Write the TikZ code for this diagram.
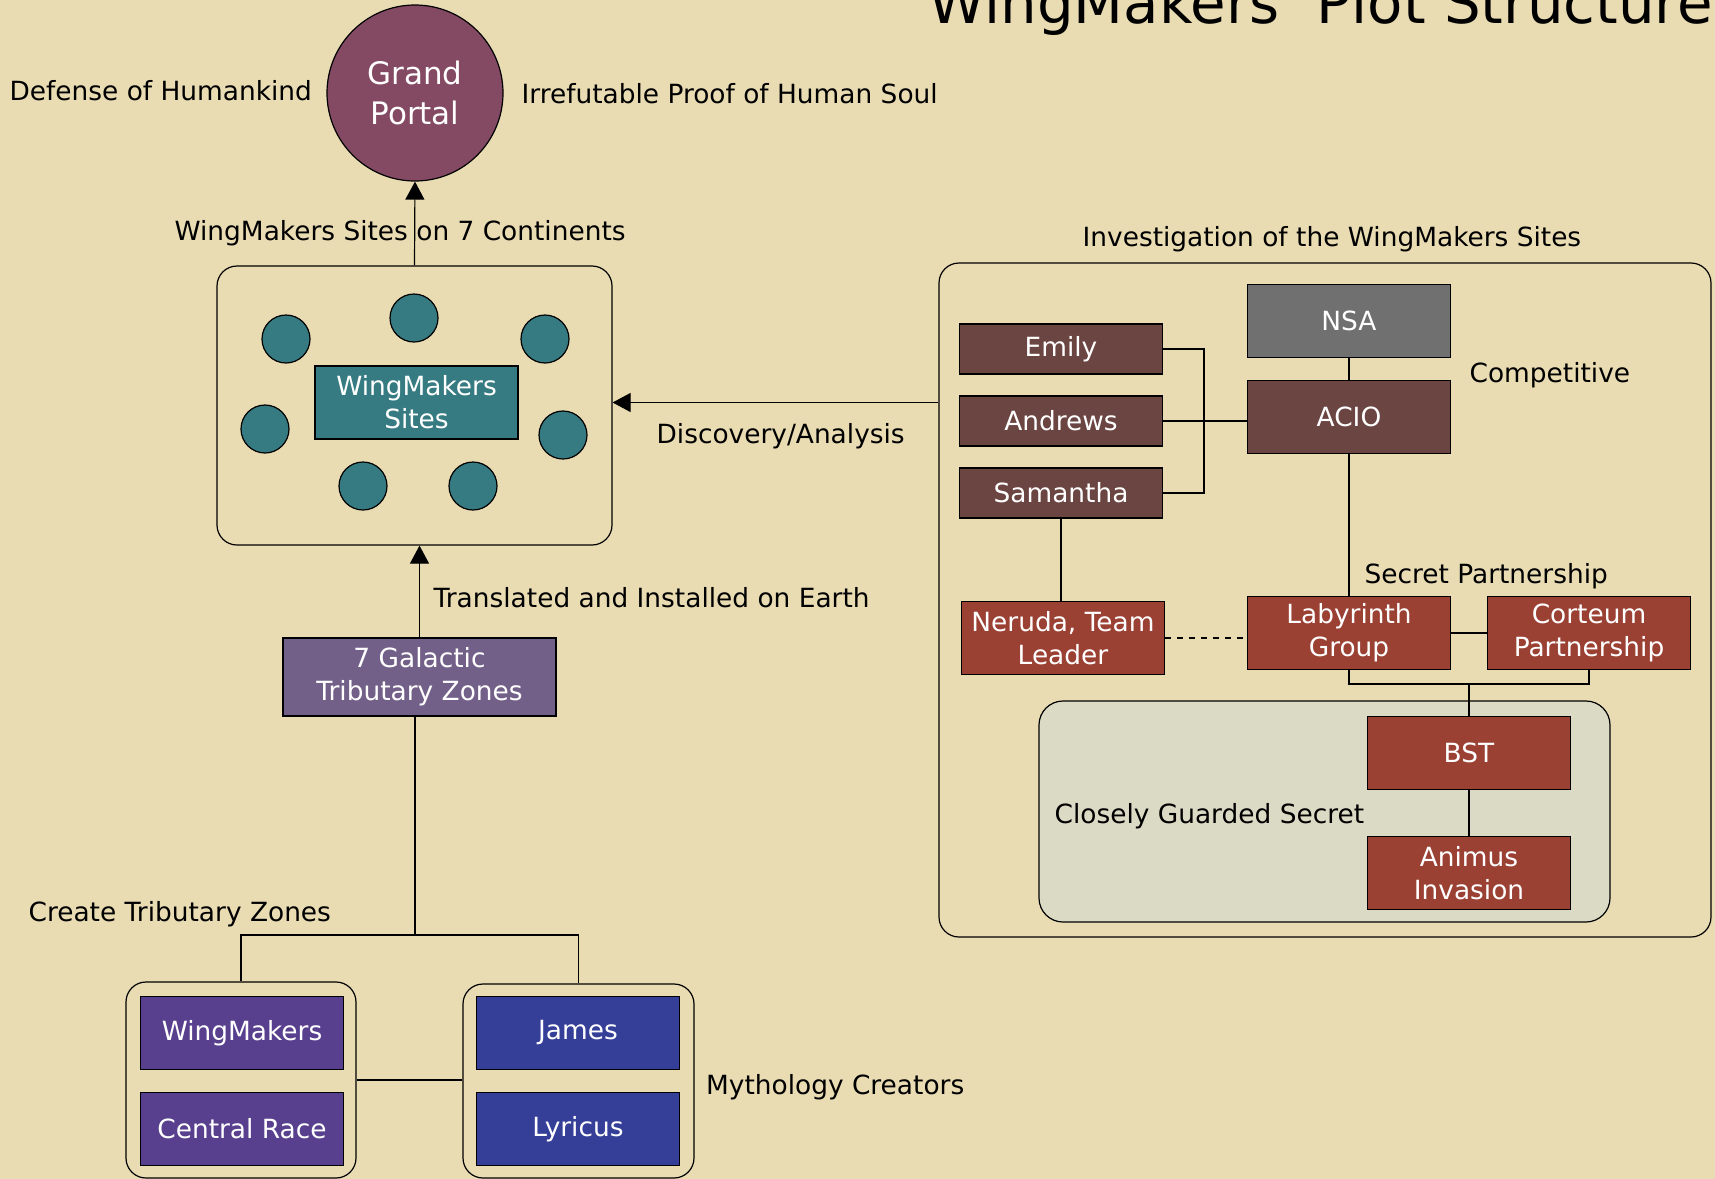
\documentclass[tikz,border=0pt]{standalone}
\usepackage{fontspec}
\setmainfont{DejaVu Sans}
\usetikzlibrary{arrows.meta}

\definecolor{paper}{HTML}{E9DCB3}
\definecolor{portalcol}{HTML}{844A63}
\definecolor{sitecol}{HTML}{367B82}
\definecolor{zonecol}{HTML}{736089}
\definecolor{makercol}{HTML}{58408E}
\definecolor{humancol}{HTML}{353F98}
\definecolor{nsacol}{HTML}{707070}
\definecolor{aciocol}{HTML}{6B4542}
\definecolor{labcol}{HTML}{9A4134}
\definecolor{secretcol}{HTML}{DBDAC5}

\begin{document}
\begin{tikzpicture}[x=0.5pt, y=-0.5pt, line width=0.6pt,
  every node/.style={font=\fontsize{13.2}{16.5}\selectfont},
  box/.style={draw, rectangle, inner sep=0pt, text=white, align=center,
    minimum width=101.5pt, minimum height=36.5pt},
  slim/.style={box, minimum height=25pt},
  group/.style={draw, rounded corners=10pt, inner sep=0pt},
  site/.style={draw, circle, fill=sitecol, minimum size=24pt, inner sep=0pt},
  lbl/.style={anchor=base west, inner sep=0pt},
  tip/.style={-{Triangle[length=9pt,width=9.5pt]}}]
\fill[paper] (0,0) rectangle (1715,1179);
\useasboundingbox (0,0) rectangle (1715,1179);

\node[lbl, font=\fontsize{28.9}{34}\selectfont] (title) at (928,23) {WingMakers' Plot Structure};

% portal and sites
\node[draw, circle, fill=portalcol, minimum size=88pt, inner sep=0pt, text=white, align=center,
  font=\fontsize{15.5}{20}\selectfont] (portal) at (415,93) {Grand\\Portal};
\node[group, minimum width=197.5pt, minimum height=139.5pt] (sites) at (414.5,405.5) {};
\node[box, fill=sitecol] (wmsites) at (416.5,402.5) {WingMakers\\Sites};
\foreach \p [count=\i] in {(286,339),(414,318),(545,339),(265,429),(563,435),(363,486),(473,486)}
  \node[site] (c\i) at \p {};

% tributary zones and creators
\node[box, fill=zonecol, minimum width=136.5pt, minimum height=39pt] (zones) at (419.5,677) {7 Galactic\\Tributary Zones};
\node[group, minimum width=115pt, minimum height=98pt] (creators) at (241,1080) {};
\node[group, minimum width=115.5pt, minimum height=97pt] (humans) at (578.5,1081) {};
\node[box, fill=makercol] (wingmakers) at (242,1033) {WingMakers};
\node[box, fill=makercol] (central) at (242,1129) {Central Race};
\node[box, fill=humancol] (james) at (578,1033) {James};
\node[box, fill=humancol] (lyricus) at (578,1129) {Lyricus};

% investigation
\node[group, minimum width=386pt, minimum height=337pt] (invest) at (1325,600) {};
\node[group, fill=secretcol, rounded corners=12pt, minimum width=285.5pt, minimum height=110.5pt] (secret) at (1324.5,811.5) {};
\node[box, fill=nsacol] (nsa) at (1349,321) {NSA};
\node[box, fill=aciocol] (acio) at (1349,417) {ACIO};
\node[slim, fill=aciocol] (emily) at (1061,349) {Emily};
\node[slim, fill=aciocol] (andrews) at (1061,421) {Andrews};
\node[slim, fill=aciocol] (samantha) at (1061,493) {Samantha};
\node[box, fill=labcol] (neruda) at (1063,638) {Neruda, Team\\Leader};
\node[box, fill=labcol] (labyrinth) at (1349,633) {Labyrinth\\Group};
\node[box, fill=labcol] (corteum) at (1589,633) {Corteum\\Partnership};
\node[box, fill=labcol] (bst) at (1469,753) {BST};
\node[box, fill=labcol] (animus) at (1469,873) {Animus\\Invasion};

% connectors
\coordinate (split) at (415,935);
\coordinate (brk) at (1204,0);
\coordinate (join) at (0,684);
\draw[tip] (sites.north) -- (portal.south);
\draw[tip] (zones.north) -- (zones.north |- sites.south);
\draw[tip] (invest.west |- wmsites) -- (sites.east |- wmsites);
\draw (zones.south -| split) -- (split);
\draw (creators.north) |- (split) -| (humans.north);
\draw (creators.east) -- (creators.east -| humans.west);
\draw (emily.east) -| (brk |- samantha.east) -- (samantha.east);
\draw (andrews.east) -- (andrews.east -| acio.west);
\draw (nsa.south) -- (acio.north);
\draw (acio.south) -- (labyrinth.north);
\draw (samantha.south) -- (samantha.south |- neruda.north);
\draw[dashed] (neruda.east) -- (neruda.east -| labyrinth.west);
\draw (labyrinth.east) -- (corteum.west);
\draw (labyrinth.south) -- (labyrinth.south |- join) -- (corteum.south |- join) -- (corteum.south);
\draw (bst.north |- join) -- (bst.north);
\draw (bst.south) -- (animus.north);

% labels
\node[lbl] (defense) at (9,100) {Defense of Humankind};
\node[lbl] (proof) at (521,103) {Irrefutable Proof of Human Soul};
\node[lbl] (continents) at (174,240) {WingMakers Sites on 7 Continents};
\node[lbl] (investlbl) at (1082,246) {Investigation of the WingMakers Sites};
\node[lbl] (competitive) at (1469,382) {Competitive};
\node[lbl] (discovery) at (656,443) {Discovery/Analysis};
\node[lbl] (translated) at (433,607) {Translated and Installed on Earth};
\node[lbl] (partnership) at (1364,583) {Secret Partnership};
\node[lbl] (guarded) at (1054,823) {Closely Guarded Secret};
\node[lbl] (create) at (28,921) {Create Tributary Zones};
\node[lbl] (mythology) at (705.5,1094) {Mythology Creators};
\end{tikzpicture}
\end{document}
